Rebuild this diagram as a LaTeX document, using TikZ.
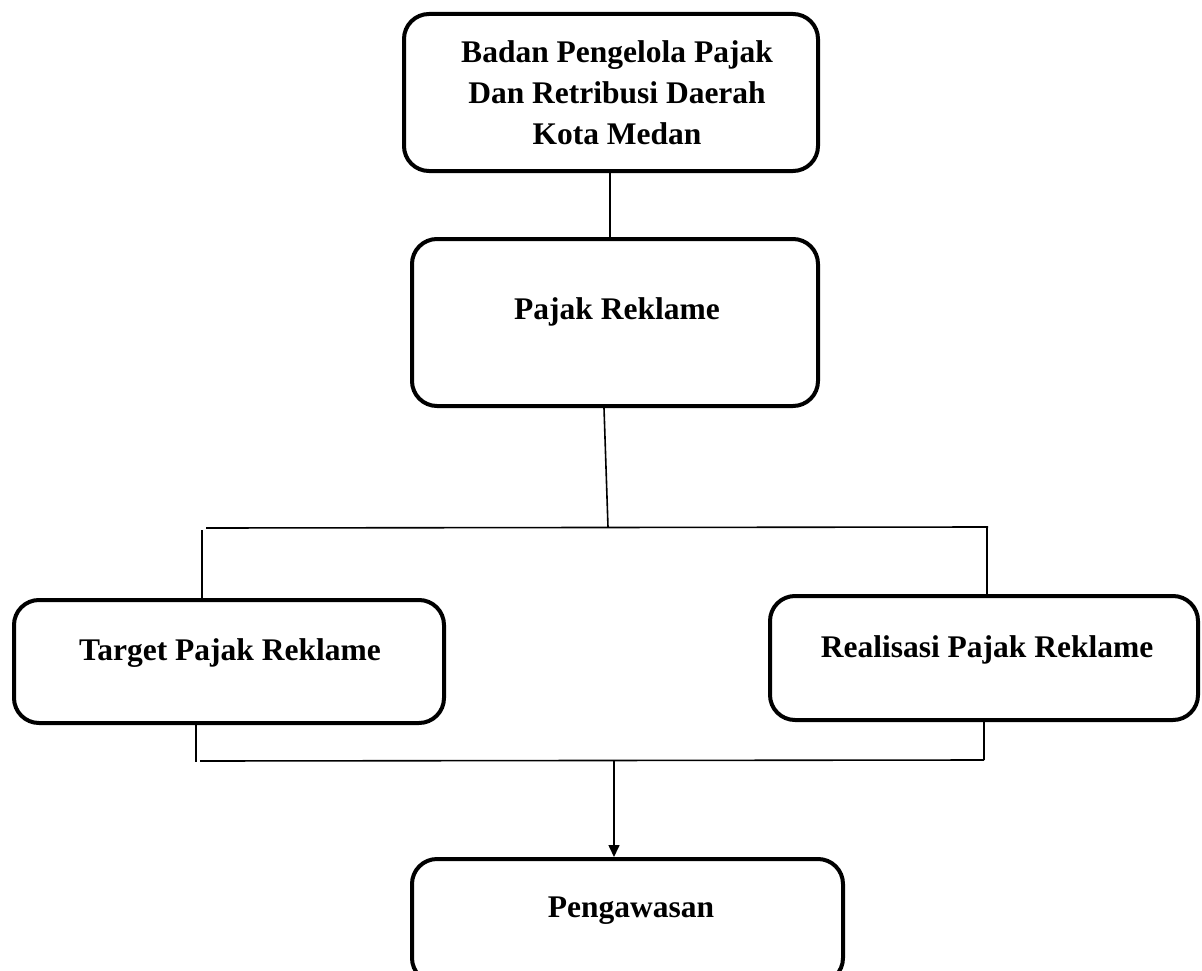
\documentclass[tikz,border=0pt]{standalone}
\usepackage{fontspec}
\setmainfont{Liberation Serif}
\usetikzlibrary{arrows.meta}
\tikzset{
  box/.style={draw=black, line width=4pt, rounded corners=25pt, rectangle, inner sep=0pt},
  lbl/.style={font=\fontsize{31.5}{41}\selectfont\bfseries, inner sep=0pt, align=center},
  conn/.style={draw=black, line width=1.6pt},
  arr/.style={conn, -{Triangle[length=12pt,width=11pt]}}
}
\begin{document}
\begin{tikzpicture}[x=1pt,y=-1pt]
\useasboundingbox (0,0) rectangle (1202,971);
\clip (0,0) rectangle (1202,971);
% boxes
\node[box, minimum width=414pt, minimum height=157pt] (b1) at (611,92.5) {};
\node[box, minimum width=406pt, minimum height=167pt] (b2) at (615,322.5) {};
\node[box, minimum width=430pt, minimum height=123pt] (b3) at (229,661.5) {};
\node[box, minimum width=428pt, minimum height=124pt] (b4) at (984,658) {};
\node[box, minimum width=431pt, minimum height=124pt] (b5) at (627.5,921) {};
% texts
\node[lbl] (t1) at (617,93) {Badan Pengelola Pajak\\Dan Retribusi Daerah\\Kota Medan};
\node[lbl, anchor=base] (t2) at (617,319) {Pajak Reklame};
\node[lbl, anchor=base] (t3) at (230,660) {Target Pajak Reklame};
\node[lbl, anchor=base] (t4) at (987,657) {Realisasi Pajak Reklame};
\node[lbl, anchor=base] (t5) at (631,917) {Pengawasan};
% helper coordinates
\coordinate (x1) at (610,0);
\coordinate (x2) at (604,0);
\coordinate (j1) at (608,527);
\coordinate (hl) at (206,528);
\coordinate (hr) at (988,527);
\coordinate (xl) at (202,0);
\coordinate (xr) at (987,0);
\coordinate (ylt) at (0,530);
\coordinate (xbl) at (196,0);
\coordinate (xbr) at (984,0);
\coordinate (bl) at (200,761);
\coordinate (br) at (984,760);
\coordinate (ybl) at (0,762);
\coordinate (xa) at (614,0);
% connectors
\draw[conn] (b1.south -| x1) -- (b2.north -| x1);
\draw[conn] (b2.south -| x2) -- (j1);
\draw[conn] (hl) -- (hr);
\draw[conn] (ylt -| xl) -- (b3.north -| xl);
\draw[conn] (hr -| xr) -- (b4.north -| xr);
\draw[conn] (b3.south -| xbl) -- (ybl -| xbl);
\draw[conn] (bl) -- (br);
\draw[conn] (b4.south -| xbr) -- (br);
\draw[arr] (bl -| xa) -- (b5.north -| xa);
\end{tikzpicture}
\end{document}
